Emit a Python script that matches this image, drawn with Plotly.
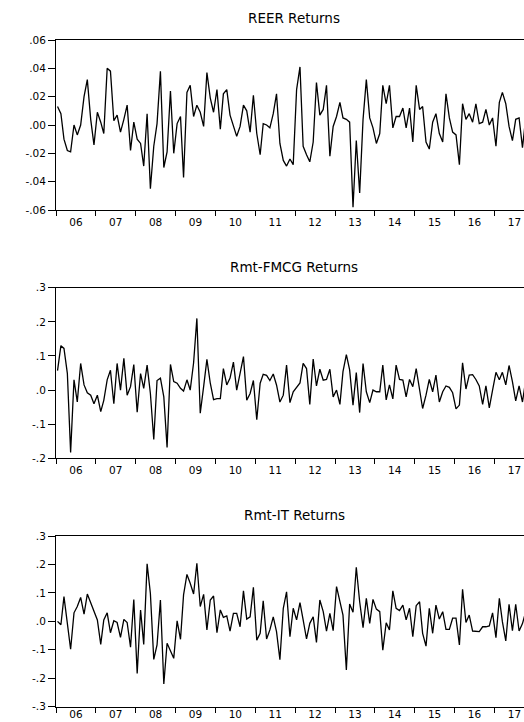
import pandas as pd
import plotly.graph_objects as go

# ---- data (monthly returns, Jan 2006 onward) ----
reer = [0.013, 0.008, -0.010, -0.018, -0.019, 0.000, -0.007, 0.000, 0.020, 0.032,
        0.004, -0.014, 0.009, 0.002, -0.006, 0.040, 0.038, 0.003, 0.007, -0.005,
        0.004, 0.014, -0.018, 0.002, -0.010, -0.013, -0.029, 0.008, -0.045, -0.015,
        0.001, 0.038, -0.030, -0.019, 0.024, -0.020, 0.001, 0.006, -0.037, 0.023,
        0.028, 0.006, 0.014, 0.009, -0.001, 0.037, 0.019, 0.009, 0.025, -0.003,
        0.022, 0.025, 0.007, 0.000, -0.008, -0.001, 0.014, 0.010, -0.005, 0.021,
        -0.006, -0.021, 0.001, 0.000, -0.002, 0.008, 0.022, -0.013, -0.025, -0.029,
        -0.024, -0.028, 0.025, 0.041, -0.015, -0.021, -0.026, -0.012, 0.030, 0.007,
        0.011, 0.028, -0.022, -0.001, 0.006, 0.016, 0.005, 0.004, 0.002, -0.058,
        -0.011, -0.048, 0.004, 0.032, 0.005, -0.002, -0.013, -0.006, 0.028, 0.015,
        0.028, -0.002, 0.006, 0.006, 0.012, -0.002, 0.012, -0.012, 0.028, 0.011,
        0.013, -0.012, -0.017, 0.002, 0.008, -0.006, -0.012, 0.022, 0.005, -0.005,
        -0.007, -0.028, 0.015, 0.004, 0.008, 0.002, 0.015, 0.001, 0.002, 0.011,
        0.000, 0.005, -0.015, 0.016, 0.023, 0.015, -0.001, -0.011, 0.004, 0.005,
        -0.016, 0.005]

fmcg = [0.057, 0.130, 0.122, 0.049, -0.183, 0.030, -0.035, 0.078, 0.015, -0.008,
        -0.015, -0.040, -0.015, -0.063, -0.030, 0.030, 0.058, -0.040, 0.078, 0.000,
        0.093, -0.015, 0.010, 0.075, -0.065, 0.048, 0.005, 0.073, -0.010, -0.145,
        0.028, 0.035, -0.020, -0.168, 0.075, 0.025, 0.020, 0.005, -0.003, 0.030,
        0.000, 0.080, 0.210, -0.068, 0.010, 0.090, 0.020, -0.028, -0.025, -0.025,
        0.063, 0.015, 0.035, 0.082, 0.000, 0.045, 0.098, -0.030, -0.010, 0.028,
        -0.087, 0.020, 0.046, 0.043, 0.028, 0.047, 0.015, -0.035, -0.015, 0.073,
        -0.037, -0.005, 0.010, 0.021, 0.078, 0.063, -0.042, 0.091, 0.012, 0.061,
        0.029, 0.031, 0.061, -0.020, 0.000, -0.042, 0.054, 0.104, 0.059, -0.044,
        0.051, -0.066, 0.078, -0.005, -0.037, 0.000, -0.005, -0.005, 0.073, -0.029,
        0.015, -0.026, 0.073, 0.031, 0.029, -0.020, 0.031, 0.010, 0.063, 0.000,
        -0.054, -0.015, 0.031, -0.005, 0.044, -0.035, -0.005, 0.012, 0.008, -0.008,
        -0.055, -0.044, 0.080, 0.003, 0.044, 0.045, 0.031, 0.012, -0.042, 0.012,
        -0.052, 0.000, 0.052, 0.030, 0.052, 0.015, 0.072, 0.025, -0.032, 0.012,
        -0.035, 0.030]

it = [0.000, -0.012, 0.087, -0.010, -0.098, 0.030, 0.052, 0.084, 0.025, 0.096,
      0.063, 0.038, 0.005, -0.081, 0.005, 0.030, -0.040, 0.002, -0.004, -0.056,
      0.007, -0.004, -0.091, 0.077, -0.183, 0.040, -0.081, 0.202, 0.098, -0.134,
      -0.083, 0.075, -0.220, -0.077, -0.107, -0.130, 0.002, -0.063, 0.093, 0.165,
      0.134, 0.096, 0.204, 0.052, 0.095, -0.030, 0.075, 0.089, -0.040, 0.040,
      0.014, 0.019, -0.034, 0.028, 0.028, -0.019, 0.107, 0.008, 0.016, 0.120,
      -0.066, -0.042, 0.072, -0.062, -0.030, 0.016, -0.036, -0.135, 0.046, 0.104,
      -0.054, 0.046, 0.005, 0.066, 0.005, -0.062, -0.007, 0.016, -0.074, 0.075,
      0.034, -0.034, 0.028, -0.033, 0.122, 0.063, 0.022, -0.171, 0.061, 0.032,
      0.190, 0.069, -0.022, 0.081, -0.007, 0.077, 0.043, 0.034, -0.101, -0.005,
      -0.030, 0.107, 0.046, 0.038, 0.057, 0.005, 0.046, -0.054, 0.055, 0.069,
      -0.042, -0.087, 0.046, -0.042, 0.057, 0.008, 0.034, -0.028, -0.028, 0.011,
      0.011, -0.083, 0.113, -0.004, 0.022, -0.034, -0.036, -0.036, -0.019, -0.019,
      -0.016, 0.030, -0.057, 0.081, -0.001, -0.069, 0.060, -0.033, 0.060, -0.034,
      -0.008, 0.035]

months = pd.date_range("2006-01-01", periods=len(reer), freq="MS") + pd.Timedelta(days=14)

titles = ["REER Returns", "Rmt-FMCG Returns", "Rmt-IT Returns"]

reer_ticks = [0.06, 0.04, 0.02, 0.0, -0.02, -0.04, -0.06]
reer_ticktext = [".06", ".04", ".02", ".00", "-.02", "-.04", "-.06"]
fmcg_ticks = [0.3, 0.2, 0.1, 0.0, -0.1, -0.2]
fmcg_ticktext = [".3", ".2", ".1", ".0", "-.1", "-.2"]
it_ticks = [0.3, 0.2, 0.1, 0.0, -0.1, -0.2, -0.3]
it_ticktext = [".3", ".2", ".1", ".0", "-.1", "-.2", "-.3"]

# ---- figure ----
W, H = 524, 722
font_family = "DejaVu Sans, Arial, sans-serif"

fig = go.Figure()
series = [reer, fmcg, it]
for k, s in enumerate(series):
    suffix = "" if k == 0 else str(k + 1)
    fig.add_trace(go.Scatter(x=months, y=s, mode="lines",
                             line=dict(color="black", width=1.3),
                             xaxis="x" + suffix, yaxis="y" + suffix,
                             showlegend=False, hoverinfo="x+y"))

x_dom = [56 / W, 1.0]
x_range = ["2006-01-01", "2017-09-29"]
panels_px = [(40, 210), (287.7, 458.3), (536, 706.7)]
y_ranges = [[-0.06, 0.06], [-0.2, 0.3], [-0.3, 0.3]]
y_ticks = [(reer_ticks, reer_ticktext), (fmcg_ticks, fmcg_ticktext), (it_ticks, it_ticktext)]
title_px = [18, 266.5, 515]
x_standoff = [-3, -3, -7]

layout = dict(width=W, height=H, margin=dict(l=0, r=0, t=0, b=0, autoexpand=False),
              paper_bgcolor="white", plot_bgcolor="white",
              font=dict(family=font_family, color="black"), annotations=[])

for k in range(3):
    suffix = "" if k == 0 else str(k + 1)
    top, bot = panels_px[k]
    layout["xaxis" + suffix] = dict(
        domain=x_dom, range=x_range, anchor="y" + suffix, type="date",
        automargin=False,
        showline=True, linecolor="black", linewidth=1, mirror=True,
        ticks="outside", ticklen=5, tickcolor="black", tickwidth=1,
        dtick="M12", tick0="2006-01-01", tickformat="%y", ticklabelmode="period",
        ticklabelstandoff=x_standoff[k],
        showgrid=False, zeroline=False, tickfont=dict(size=10.5, family=font_family))
    layout["yaxis" + suffix] = dict(
        domain=[1 - bot / H, 1 - top / H], range=y_ranges[k], anchor="x" + suffix,
        automargin=False,
        showline=True, linecolor="black", linewidth=1,
        ticks="outside", ticklen=7, tickcolor="black", tickwidth=1,
        tickvals=y_ticks[k][0], ticktext=y_ticks[k][1],
        showgrid=False, zeroline=False, tickfont=dict(size=10.5, family=font_family))
    layout["annotations"].append(dict(
        text=titles[k], x=294 / W, y=1 - title_px[k] / H, xref="paper", yref="paper",
        xanchor="center", yanchor="middle", showarrow=False,
        font=dict(size=13.5, family=font_family, color="black")))

fig.update_layout(**layout)
fig.write_html("out.html",
               config={"displayModeBar": False},
               post_script="document.body.style.margin='0';document.body.style.overflow='hidden';")
